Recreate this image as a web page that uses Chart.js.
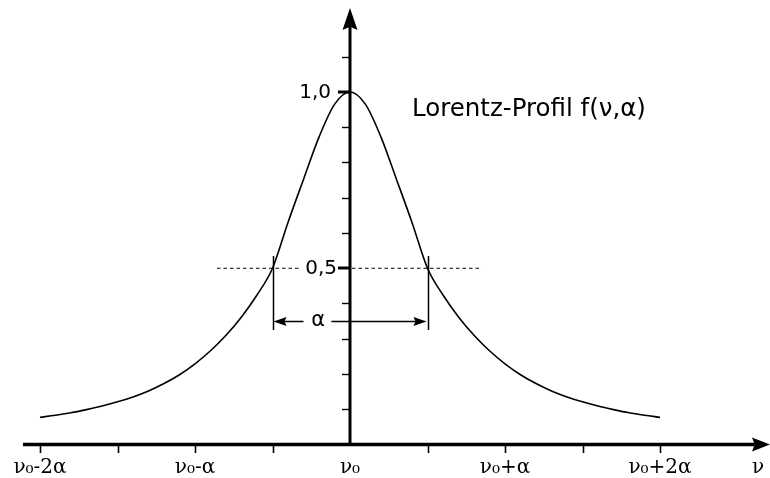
<!DOCTYPE html>
<html>
<head>
<meta charset="utf-8">
<script src="https://cdn.jsdelivr.net/npm/chart.js@4/dist/chart.umd.min.js"></script>
<style>
  html, body { margin: 0; padding: 0; background: #fff; }
  #wrap { width: 770px; height: 478px; }
</style>
</head>
<body>
<div id="wrap"><canvas id="c" width="770" height="478"></canvas></div>
<script>
// Frequency offset from the line centre, in units of alpha
const offsets = [
  -2.0, -1.9, -1.8, -1.7, -1.6, -1.5, -1.4, -1.3, -1.2, -1.1, -1.0,
  -0.9, -0.8, -0.7, -0.6, -0.5, -0.4, -0.3, -0.2, -0.1, 0.0,
  0.1, 0.2, 0.3, 0.4, 0.5, 0.6, 0.7, 0.8, 0.9, 1.0,
  1.1, 1.2, 1.3, 1.4, 1.5, 1.6, 1.7, 1.8, 1.9, 2.0
];
// Normalised line profile f(nu, alpha)
const profile = [
  0.077, 0.083, 0.090, 0.099, 0.109, 0.121, 0.135, 0.152, 0.173, 0.198, 0.229,
  0.266, 0.310, 0.362, 0.424, 0.500, 0.630, 0.752, 0.872, 0.965, 1.000,
  0.965, 0.872, 0.752, 0.630, 0.500, 0.424, 0.362, 0.310, 0.266, 0.229,
  0.198, 0.173, 0.152, 0.135, 0.121, 0.109, 0.099, 0.090, 0.083, 0.077
];

// Axis ticks and labels
const xTickValues = [-2, -1.5, -1, -0.5, 0.5, 1, 1.5, 2];
const xLabelValues = [-2, -1, 0, 1, 2];
const xLabelTexts = ['ν₀-2α', 'ν₀-α', 'ν₀', 'ν₀+α', 'ν₀+2α'];
const yTickValues = [0.1, 0.2, 0.3, 0.4, 0.5, 0.6, 0.7, 0.8, 0.9, 1.0, 1.1];
const yLabelValues = [1.0, 0.5];
const yLabelTexts = ['1,0', '0,5'];
const halfWidthEdges = [-0.5, 0.5];
const halfMaximum = 0.5;
const widthLabel = 'α';
const titleText = 'Lorentz-Profil f(ν,α)';
const axisName = 'ν';

const points = offsets.map((x, i) => ({ x: x, y: profile[i] }));

function arrowHead(ctx, tipX, tipY, dirX, dirY, len, half) {
  const px = -dirY, py = dirX;
  ctx.beginPath();
  ctx.moveTo(tipX, tipY);
  ctx.lineTo(tipX - dirX * len + px * half, tipY - dirY * len + py * half);
  ctx.lineTo(tipX - dirX * len * 0.85, tipY - dirY * len * 0.85);
  ctx.lineTo(tipX - dirX * len - px * half, tipY - dirY * len - py * half);
  ctx.closePath();
  ctx.fill();
}

const diagram = {
  id: 'diagram',
  afterDatasetsDraw(chart) {
    const ctx = chart.ctx;
    const xs = chart.scales.x, ys = chart.scales.y;
    const X = v => xs.getPixelForValue(v);
    const Y = v => ys.getPixelForValue(v);
    const x0 = X(0), y0 = Y(0);
    ctx.save();
    ctx.strokeStyle = '#000';
    ctx.fillStyle = '#000';

    // half-maximum dashed guide
    const yHalf = Y(halfMaximum);
    ctx.lineWidth = 1;
    ctx.setLineDash([3.5, 3]);
    ctx.beginPath();
    ctx.moveTo(X(-0.858), yHalf); ctx.lineTo(X(-0.32), yHalf);
    ctx.moveTo(x0 + 2, yHalf); ctx.lineTo(X(0.852), yHalf);
    ctx.stroke();
    ctx.setLineDash([]);

    // width markers
    ctx.lineWidth = 1.5;
    ctx.beginPath();
    halfWidthEdges.forEach(v => {
      const px = Math.round(X(v)) + 0.5;
      ctx.moveTo(px, Y(0.535)); ctx.lineTo(px, Y(0.325));
    });
    ctx.stroke();

    // width arrow with label
    const ya = Math.round(Y(0.350)) + 0.5;
    const xl = X(halfWidthEdges[0]) + 1, xr = X(halfWidthEdges[1]) - 1;
    ctx.lineWidth = 1.5;
    ctx.beginPath();
    ctx.moveTo(xl + 6, ya); ctx.lineTo(X(-0.30), ya);
    ctx.moveTo(X(-0.12), ya); ctx.lineTo(xr - 6, ya);
    ctx.stroke();
    arrowHead(ctx, xl, ya, -1, 0, 13, 4.5);
    arrowHead(ctx, xr, ya, 1, 0, 13, 4.5);
    ctx.font = '21px "DejaVu Sans"';
    ctx.textAlign = 'center';
    ctx.textBaseline = 'middle';
    ctx.fillText(widthLabel, X(-0.205), ya - 1);

    // vertical axis
    ctx.lineWidth = 3;
    ctx.beginPath();
    ctx.moveTo(x0, y0); ctx.lineTo(x0, 24);
    ctx.stroke();
    arrowHead(ctx, x0, 8, 0, -1, 22, 7.5);

    // vertical axis ticks
    yTickValues.forEach(v => {
      const major = yLabelValues.includes(v);
      const py = Math.round(Y(v)) + (major ? 0 : 0.5);
      ctx.lineWidth = major ? 3 : 1.4;
      ctx.beginPath();
      ctx.moveTo(x0 - (major ? 12 : 8), py); ctx.lineTo(x0, py);
      ctx.stroke();
    });

    // vertical axis labels
    ctx.textAlign = 'right';
    ctx.textBaseline = 'middle';
    ctx.font = '20px "DejaVu Sans"';
    yLabelValues.forEach((v, i) => {
      ctx.fillText(yLabelTexts[i], x0 - (v === 1 ? 19 : 13), Y(v) + 1);
    });

    // horizontal axis
    ctx.lineWidth = 3.5;
    ctx.beginPath();
    ctx.moveTo(X(-2.11), y0); ctx.lineTo(755, y0);
    ctx.stroke();
    arrowHead(ctx, 770, y0, 1, 0, 18, 7);

    // horizontal axis ticks
    ctx.lineWidth = 1.6;
    ctx.beginPath();
    xTickValues.forEach(v => {
      const px = Math.round(X(v)) + 0.5;
      ctx.moveTo(px, y0); ctx.lineTo(px, y0 + 8.5);
    });
    ctx.stroke();

    // horizontal axis labels
    ctx.font = '20px "DejaVu Serif"';
    ctx.textAlign = 'center';
    ctx.textBaseline = 'alphabetic';
    xLabelValues.forEach((v, i) => {
      ctx.fillText(xLabelTexts[i], X(v), 473);
    });
    ctx.textAlign = 'left';
    ctx.fillText(axisName, 752, 473);

    // title
    ctx.font = '24.5px "DejaVu Sans"';
    ctx.textAlign = 'left';
    ctx.fillText(titleText, 412, 116);

    ctx.restore();
  }
};

new Chart(document.getElementById('c'), {
  type: 'line',
  data: {
    datasets: [{
      data: points,
      borderColor: '#000',
      borderWidth: 1.6,
      pointRadius: 0,
      fill: false,
      cubicInterpolationMode: 'monotone'
    }]
  },
  options: {
    responsive: false,
    devicePixelRatio: 1,
    animation: false,
    events: [],
    layout: { padding: 0 },
    plugins: { legend: { display: false }, tooltip: { enabled: false }, title: { display: false } },
    scales: {
      x: { type: 'linear', display: false, min: -350 / 155, max: 420 / 155 },
      y: { type: 'linear', display: false, min: -33.5 / 352.5, max: 444.5 / 352.5 }
    }
  },
  plugins: [diagram]
});
</script>
</body>
</html>
